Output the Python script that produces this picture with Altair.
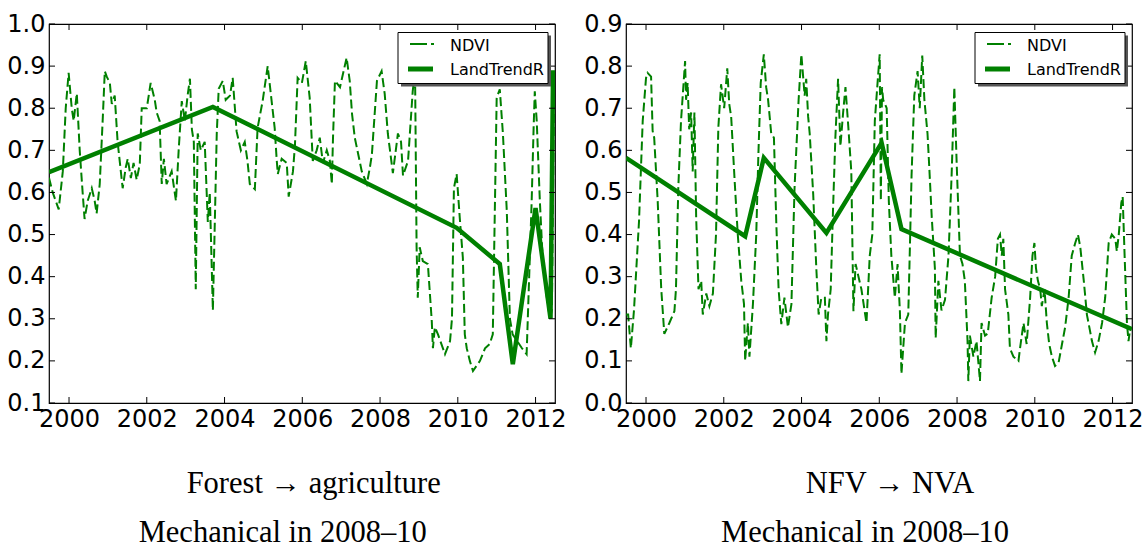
import altair as alt
import pandas as pd

GREEN = "#008000"

# ---------------- data ----------------
left_ndvi_year = [1999.485, 1999.58, 1999.735, 1999.84, 1999.915, 1999.99, 2000.07, 2000.12, 2000.20, 2000.275,
                  2000.35, 2000.40, 2000.48, 2000.585, 2000.66, 2000.71, 2000.79, 2000.87, 2000.92, 2000.97,
                  2001.05, 2001.10, 2001.175, 2001.25, 2001.38, 2001.46, 2001.51, 2001.59, 2001.66, 2001.74,
                  2001.82, 2001.87, 2002.0, 2002.10, 2002.205, 2002.255, 2002.33, 2002.385, 2002.44, 2002.51,
                  2002.64, 2002.75, 2002.82, 2002.90, 2002.98, 2003.05, 2003.11, 2003.16, 2003.21, 2003.26,
                  2003.31, 2003.39, 2003.49, 2003.57, 2003.62, 2003.70, 2003.80, 2003.85, 2003.955, 2004.03,
                  2004.14, 2004.21, 2004.31, 2004.42, 2004.52, 2004.59, 2004.65, 2004.78, 2004.85, 2004.98,
                  2005.11, 2005.29, 2005.34, 2005.37, 2005.47, 2005.60, 2005.65, 2005.76, 2005.81, 2005.88,
                  2005.99, 2006.09, 2006.19, 2006.27, 2006.37, 2006.45, 2006.53, 2006.63, 2006.71, 2006.76,
                  2006.79, 2006.84, 2006.97, 2007.14, 2007.22, 2007.28, 2007.35, 2007.53, 2007.66, 2007.74,
                  2007.79, 2007.92, 2008.04, 2008.12, 2008.20, 2008.33, 2008.46, 2008.54, 2008.59, 2008.72,
                  2008.84, 2008.90, 2008.94, 2008.97, 2009.02, 2009.10, 2009.23, 2009.33, 2009.36, 2009.41,
                  2009.49, 2009.67, 2009.80, 2009.85, 2009.90, 2009.97, 2010.05, 2010.13, 2010.18, 2010.23,
                  2010.31, 2010.39, 2010.57, 2010.70, 2010.82, 2010.90, 2011.0, 2011.08, 2011.16, 2011.26,
                  2011.34, 2011.41, 2011.65, 2011.77, 2011.90, 2011.95, 2011.98, 2012.03, 2012.11, 2012.19,
                  2012.29, 2012.37, 2012.42, 2012.48]
left_ndvi_val = [0.635, 0.60, 0.56, 0.65, 0.80, 0.884, 0.80, 0.77, 0.835, 0.70,
                 0.60, 0.537, 0.58, 0.61, 0.58, 0.55, 0.62, 0.78, 0.888, 0.875,
                 0.86, 0.81, 0.83, 0.72, 0.61, 0.66, 0.68, 0.634, 0.67, 0.63,
                 0.667, 0.80, 0.80, 0.86, 0.82, 0.79, 0.77, 0.62, 0.68, 0.62,
                 0.65, 0.58, 0.70, 0.817, 0.77, 0.83, 0.87, 0.75, 0.72, 0.37,
                 0.74, 0.70, 0.72, 0.53, 0.60, 0.32, 0.74, 0.846, 0.865, 0.82,
                 0.83, 0.872, 0.745, 0.70, 0.72, 0.675, 0.62, 0.608, 0.753, 0.817,
                 0.90, 0.753, 0.68, 0.644, 0.68, 0.67, 0.59, 0.65, 0.71, 0.872,
                 0.86, 0.912, 0.825, 0.675, 0.70, 0.73, 0.67, 0.70, 0.675, 0.62,
                 0.73, 0.865, 0.85, 0.92, 0.865, 0.786, 0.73, 0.65, 0.62, 0.66,
                 0.69, 0.865, 0.888, 0.834, 0.74, 0.646, 0.74, 0.72, 0.64, 0.675,
                 0.84, 0.888, 0.47, 0.35, 0.47, 0.437, 0.43, 0.295, 0.23, 0.28,
                 0.263, 0.216, 0.247, 0.30, 0.61, 0.644, 0.54, 0.445, 0.263, 0.23,
                 0.20, 0.176, 0.20, 0.23, 0.24, 0.263, 0.825, 0.845, 0.74, 0.556,
                 0.30, 0.263, 0.23, 0.216, 0.58, 0.753, 0.84, 0.77, 0.58, 0.43,
                 0.35, 0.30, 0.32, 0.88]

left_ltr_year = [1999.485, 2003.70, 2009.97, 2011.08, 2011.415, 2012.0, 2012.385, 2012.45]
left_ltr_val = [0.648, 0.803, 0.516, 0.43, 0.192, 0.563, 0.30, 0.89]

right_ndvi_year = [1999.485, 1999.54, 1999.61, 1999.69, 1999.82, 1999.915, 2000.0, 2000.04, 2000.13, 2000.17,
                   2000.21, 2000.30, 2000.39, 2000.47, 2000.60, 2000.73, 2000.77, 2000.83, 2000.90, 2001.005,
                   2001.03, 2001.07, 2001.11, 2001.16, 2001.20, 2001.245, 2001.29, 2001.35, 2001.42, 2001.46,
                   2001.55, 2001.63, 2001.72, 2001.80, 2001.86, 2001.93, 2002.01, 2002.09, 2002.14, 2002.19,
                   2002.28, 2002.36, 2002.45, 2002.52, 2002.55, 2002.62, 2002.66, 2002.75, 2002.835, 2002.89,
                   2002.95, 2003.03, 2003.09, 2003.14, 2003.22, 2003.29, 2003.35, 2003.41, 2003.48, 2003.56,
                   2003.65, 2003.74, 2003.82, 2003.925, 2003.995, 2004.08, 2004.12, 2004.17, 2004.21, 2004.30,
                   2004.38, 2004.44, 2004.51, 2004.60, 2004.64, 2004.68, 2004.75, 2004.81, 2004.87, 2004.94,
                   2005.0, 2005.07, 2005.13, 2005.20, 2005.28, 2005.335, 2005.39, 2005.54, 2005.67, 2005.755,
                   2005.82, 2005.885, 2005.955, 2006.01, 2006.04, 2006.07, 2006.10, 2006.19, 2006.245, 2006.31,
                   2006.40, 2006.47, 2006.53, 2006.57, 2006.66, 2006.745, 2006.79, 2006.83, 2006.90, 2006.985,
                   2007.04, 2007.105, 2007.16, 2007.24, 2007.28, 2007.35, 2007.43, 2007.45, 2007.52, 2007.60,
                   2007.69, 2007.78, 2007.86, 2007.93, 2007.99, 2008.075, 2008.14, 2008.20, 2008.27, 2008.29,
                   2008.33, 2008.42, 2008.50, 2008.59, 2008.63, 2008.72, 2008.79, 2008.89, 2008.98, 2009.05,
                   2009.105, 2009.15, 2009.19, 2009.235, 2009.32, 2009.36, 2009.45, 2009.58, 2009.62, 2009.71,
                   2009.79, 2009.88, 2009.94, 2009.99, 2010.03, 2010.08, 2010.14, 2010.18, 2010.25, 2010.31,
                   2010.37, 2010.44, 2010.52, 2010.61, 2010.70, 2010.78, 2010.87, 2010.95, 2011.04, 2011.11,
                   2011.17, 2011.26, 2011.34, 2011.47, 2011.55, 2011.64, 2011.73, 2011.81, 2011.90, 2011.98,
                   2012.07, 2012.11, 2012.16, 2012.225, 2012.26, 2012.31, 2012.37, 2012.41, 2012.46]
right_ndvi_val = [0.21, 0.21, 0.13, 0.22, 0.432, 0.67, 0.772, 0.784, 0.775, 0.646,
                  0.63, 0.48, 0.273, 0.164, 0.19, 0.218, 0.27, 0.51, 0.67, 0.812,
                  0.72, 0.76, 0.65, 0.69, 0.55, 0.69, 0.44, 0.27, 0.29, 0.21,
                  0.26, 0.23, 0.26, 0.40, 0.654, 0.757, 0.70, 0.795, 0.71, 0.68,
                  0.527, 0.40, 0.29, 0.235, 0.10, 0.19, 0.11, 0.235, 0.40, 0.59,
                  0.76, 0.828, 0.75, 0.72, 0.64, 0.63, 0.43, 0.27, 0.187, 0.25,
                  0.18, 0.235, 0.51, 0.72, 0.828, 0.73, 0.77, 0.68, 0.64, 0.496,
                  0.32, 0.21, 0.25, 0.25, 0.147, 0.21, 0.27, 0.46, 0.63, 0.77,
                  0.61, 0.69, 0.75, 0.66, 0.55, 0.218, 0.33, 0.27, 0.19, 0.35,
                  0.40, 0.67, 0.76, 0.828, 0.48, 0.75, 0.72, 0.70, 0.48, 0.35,
                  0.25, 0.33, 0.218, 0.069, 0.19, 0.21, 0.38, 0.54, 0.73, 0.788,
                  0.70, 0.825, 0.72, 0.64, 0.57, 0.44, 0.32, 0.154, 0.29, 0.22,
                  0.245, 0.35, 0.54, 0.75, 0.57, 0.35, 0.33, 0.29, 0.147, 0.052,
                  0.16, 0.11, 0.147, 0.052, 0.19, 0.16, 0.165, 0.25, 0.30, 0.39,
                  0.40, 0.35, 0.39, 0.27, 0.21, 0.13, 0.11, 0.10, 0.13, 0.19,
                  0.14, 0.25, 0.35, 0.38, 0.32, 0.29, 0.27, 0.23, 0.27, 0.19,
                  0.14, 0.11, 0.088, 0.095, 0.14, 0.18, 0.25, 0.35, 0.38, 0.40,
                  0.37, 0.29, 0.21, 0.147, 0.12, 0.147, 0.19, 0.25, 0.38, 0.40,
                  0.39, 0.36, 0.40, 0.475, 0.49, 0.35, 0.19, 0.147, 0.18]

right_ltr_year = [1999.485, 2002.55, 2003.03, 2004.64, 2006.06, 2006.57, 2012.5]
right_ltr_val = [0.582, 0.396, 0.582, 0.404, 0.618, 0.413, 0.175]

x_ticks = [2000, 2002, 2004, 2006, 2008, 2010, 2012]
left_y_ticks = [0.1, 0.2, 0.3, 0.4, 0.5, 0.6, 0.7, 0.8, 0.9, 1.0]
right_y_ticks = [0.0, 0.1, 0.2, 0.3, 0.4, 0.5, 0.6, 0.7, 0.8, 0.9]
series_names = ["NDVI", "LandTrendR"]
left_captions = ["Forest \u2192 agriculture", "Mechanical in 2008\u201310"]
right_captions = ["NFV \u2192 NVA", "Mechanical in 2008\u201310"]

# ---------------- layout ----------------
W, H = 506, 379
X_DOMAIN = [1999.485, 2012.5]
SANS = "DejaVu Sans"
SERIF = "Liberation Serif, Times New Roman, DejaVu Serif, serif"


def panel(ndvi_year, ndvi_val, ltr_year, ltr_val, y_domain, y_ticks, captions, cap_x):
    ndvi = pd.DataFrame({"year": ndvi_year, "value": ndvi_val})
    ltr = pd.DataFrame({"year": ltr_year, "value": ltr_val})
    xt = pd.DataFrame({"year": x_ticks})
    yt = pd.DataFrame({"value": y_ticks})

    xs = alt.Scale(domain=X_DOMAIN, nice=False, zero=False)
    ys = alt.Scale(domain=y_domain, nice=False, zero=False)
    xax = alt.Axis(values=x_ticks, format="d", labelFont=SANS, labelFontSize=24,
                   labelColor="black", ticks=False, tickSize=0, domain=False, grid=False,
                   labelPadding=4, title=None, labelOverlap=False, labelFlush=False)
    yax = alt.Axis(values=y_ticks, format=".1f", labelFont=SANS, labelFontSize=24,
                   labelColor="black", ticks=False, tickSize=0, domain=False, grid=False,
                   labelPadding=4, title=None, labelOverlap=False, labelFlush=False)

    ndvi_line = alt.Chart(ndvi).mark_line(color=GREEN, strokeWidth=2, strokeDash=[9, 4], clip=True).encode(
        x=alt.X("year:Q", scale=xs, axis=xax),
        y=alt.Y("value:Q", scale=ys, axis=yax),
        order="year:Q",
    )
    ltr_line = alt.Chart(ltr).mark_line(color=GREEN, strokeWidth=4.5, clip=True).encode(
        x=alt.X("year:Q", scale=xs),
        y=alt.Y("value:Q", scale=ys),
        order="year:Q",
    )
    tick_bottom = alt.Chart(xt).mark_rule(color="black", strokeWidth=1).encode(
        x=alt.X("year:Q", scale=xs), y=alt.value(H), y2=alt.value(H - 6))
    tick_top = alt.Chart(xt).mark_rule(color="black", strokeWidth=1).encode(
        x=alt.X("year:Q", scale=xs), y=alt.value(0), y2=alt.value(6))
    tick_left = alt.Chart(yt).mark_rule(color="black", strokeWidth=1).encode(
        y=alt.Y("value:Q", scale=ys), x=alt.value(0), x2=alt.value(6))
    tick_right = alt.Chart(yt).mark_rule(color="black", strokeWidth=1).encode(
        y=alt.Y("value:Q", scale=ys), x=alt.value(W - 6), x2=alt.value(W))

    one = pd.DataFrame({"a": [0]})
    lx0, lx1, ly0, ly1 = 349, 499, 8.5, 59.5
    shadow = alt.Chart(one).mark_rect(fill="#555555").encode(
        x=alt.value(lx0 + 3), x2=alt.value(lx1 + 3), y=alt.value(ly0 + 3), y2=alt.value(ly1 + 3))
    box = alt.Chart(one).mark_rect(fill="white", stroke="black", strokeWidth=1).encode(
        x=alt.value(lx0), x2=alt.value(lx1), y=alt.value(ly0), y2=alt.value(ly1))
    leg_ndvi = alt.Chart(one).mark_rule(color=GREEN, strokeWidth=2, strokeDash=[17, 4, 3, 60]).encode(
        x=alt.value(361), x2=alt.value(385), y=alt.value(20), y2=alt.value(20))
    leg_ltr = alt.Chart(one).mark_rule(color=GREEN, strokeWidth=5).encode(
        x=alt.value(359), x2=alt.value(384), y=alt.value(45), y2=alt.value(45))
    leg_text = alt.Chart(pd.DataFrame({"name": series_names, "ypx": [21.5, 45.5]})).mark_text(
        font=SANS, fontSize=16, align="left", baseline="middle", color="black", dx=0).encode(
        x=alt.value(401), y=alt.Y("ypx:Q", scale=None), text="name:N")

    cap = alt.Chart(pd.DataFrame({"t": captions, "cx": cap_x, "cy": [468.5, 518]})).mark_text(
        font=SERIF, fontSize=30.5, align="center", baseline="alphabetic", color="black").encode(
        x=alt.X("cx:Q", scale=None), y=alt.Y("cy:Q", scale=None), text="t:N")

    return alt.layer(ndvi_line, ltr_line, tick_bottom, tick_top, tick_left, tick_right,
                     shadow, box, leg_ndvi, leg_ltr, leg_text, cap).properties(width=W, height=H)


left = panel(left_ndvi_year, left_ndvi_val, left_ltr_year, left_ltr_val,
             [0.1, 1.0], left_y_ticks, left_captions, [264.7, 233.7])
right = panel(right_ndvi_year, right_ndvi_val, right_ltr_year, right_ltr_val,
              [0.0, 0.9], right_y_ticks, right_captions, [264.0, 239.0])

chart = alt.hconcat(left, right, spacing=16).properties(
    padding={"left": 6, "top": 11, "right": 0, "bottom": 0},
    background="white",
).configure_view(stroke="black", strokeWidth=1.2)

chart.save("out.html", embed_options={"renderer": "svg", "actions": False})
